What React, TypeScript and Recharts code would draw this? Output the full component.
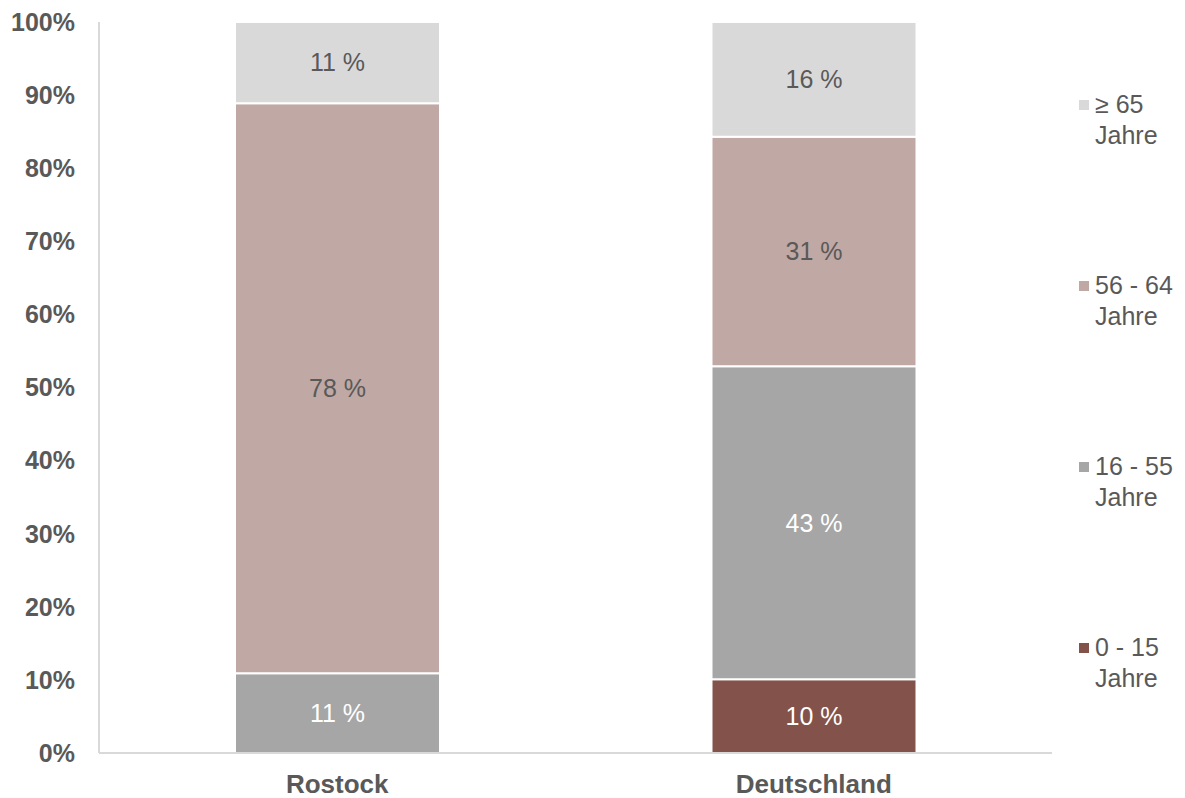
import { BarChart, Bar, XAxis, YAxis, LabelList } from 'recharts';

const categories = ['Rostock', 'Deutschland'];
const age0to15 = [0, 10.1];
const age16to55 = [10.9, 42.8];
const age56to64 = [78.0, 31.4];
const age65plus = [11.1, 15.7];
const yTicks = [0, 10, 20, 30, 40, 50, 60, 70, 80, 90, 100];

const SERIES = [
  { key: 'a', name: '0 - 15', values: age0to15, color: '#83534b', text: '#ffffff' },
  { key: 'b', name: '16 - 55', values: age16to55, color: '#a6a6a6', text: '#ffffff' },
  { key: 'c', name: '56 - 64', values: age56to64, color: '#c0a8a4', text: '#595959' },
  { key: 'd', name: '≥ 65', values: age65plus, color: '#d9d9d9', text: '#595959' },
];

const data = categories.map((cat, i) => {
  const row: Record<string, string | number> = { cat };
  SERIES.forEach((s) => {
    row[s.key] = s.values[i];
  });
  return row;
});

const FONT = '"Liberation Sans", Arial, sans-serif';

// legend drawn as plain html to the right of the plot
const LegendBox = () => (
  <div
    style={{
      position: 'absolute',
      left: 1078,
      top: 89,
      width: 107,
      fontFamily: FONT,
      color: '#595959',
      fontSize: 25,
    }}
  >
    {[...SERIES].reverse().map((s) => (
      <div key={s.key} style={{ height: 181, position: 'relative' }}>
        <span
          style={{
            position: 'absolute',
            left: 1,
            top: 11,
            width: 10,
            height: 10,
            background: s.color,
          }}
        />
        <div style={{ position: 'absolute', left: 17, top: 0, lineHeight: '31px', whiteSpace: 'nowrap' }}>
          {s.name}
          <br />
          Jahre
        </div>
      </div>
    ))}
  </div>
);

export default function App() {
  return (
    <div style={{ position: 'absolute', left: 0, top: 0, width: 1185, height: 798, background: '#fff' }}>
      <BarChart
        width={1185}
        height={798}
        data={data}
        margin={{ top: 22, right: 133, bottom: 0, left: 0 }}
        barSize={205}
      >
        <XAxis
          dataKey="cat"
          height={45}
          axisLine={{ stroke: '#d9d9d9', strokeWidth: 2 }}
          tickLine={false}
          tickSize={0}
          tickMargin={22}
          tick={{ fill: '#595959', fontSize: 26, fontWeight: 'bold', fontFamily: FONT }}
        />
        <YAxis
          width={99}
          domain={[0, 100]}
          ticks={yTicks}
          interval={0}
          tickFormatter={(v) => `${v}%`}
          axisLine={{ stroke: '#d9d9d9', strokeWidth: 2 }}
          tickLine={false}
          tickSize={0}
          tickMargin={24}
          tick={{ fill: '#595959', fontSize: 25, fontWeight: 'bold', fontFamily: FONT }}
        />
        {SERIES.map((s) => (
          <Bar
            key={s.key}
            dataKey={s.key}
            name={s.name}
            stackId="x"
            fill={s.color}
            stroke="#ffffff"
            strokeWidth={2}
            isAnimationActive={false}
          >
            <LabelList
              dataKey={s.key}
              position="center"
              formatter={(v: number) => (v > 0 ? `${Math.round(v)} %` : '')}
              style={{ fill: s.text, fontSize: 25, fontFamily: FONT }}
            />
          </Bar>
        ))}
      </BarChart>
      <LegendBox />
    </div>
  );
}
